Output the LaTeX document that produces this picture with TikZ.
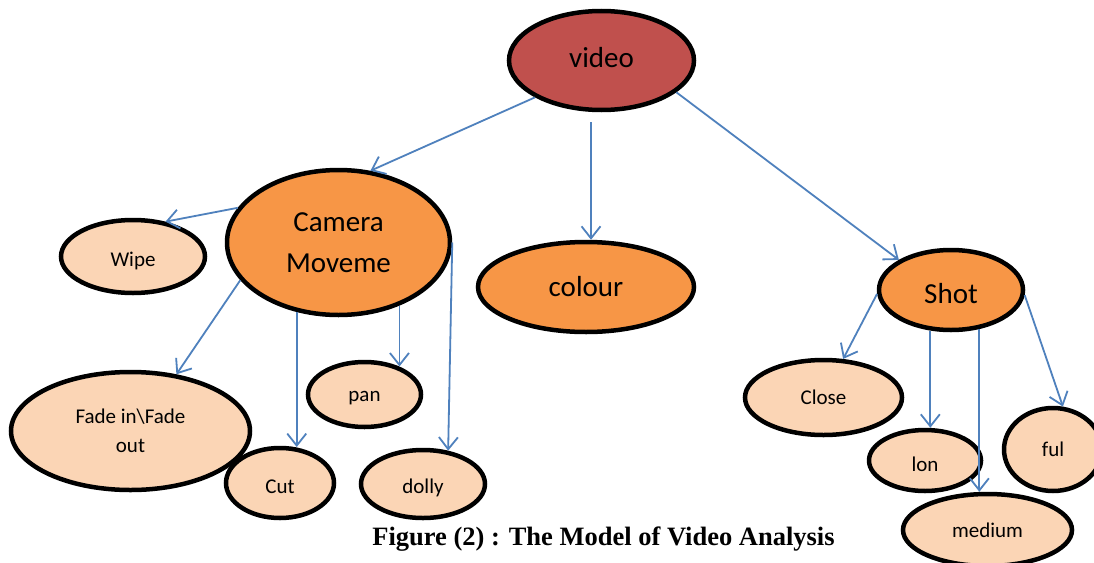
\documentclass[tikz,border=0pt]{standalone}
\usepackage{fontspec}
\setmainfont{Carlito}
\newfontfamily\capfont{Liberation Serif}
\usetikzlibrary{arrows.meta,shapes.geometric}
\definecolor{vidred}{HTML}{C0504D}
\definecolor{orng}{HTML}{F79646}
\definecolor{peach}{HTML}{FBD5B5}
\definecolor{arrblue}{HTML}{4F81BD}
\newcommand{\lowr}[1]{\raisebox{-4pt}[\height][\depth]{#1}}
\begin{document}
\begin{tikzpicture}[x=1pt,y=-1pt,
 ell/.style={ellipse,draw=black,line width=4.5pt,inner sep=0pt,align=center},
 big/.style={ell,font=\fontsize{29}{41}\selectfont},
 small/.style={ell,fill=peach,font=\fontsize{21}{29}\selectfont},
 conn/.style={draw=arrblue,line width=1.8pt,-{Straight Barb[length=12pt,width=19pt]}}]
\clip (0,0) rectangle (1094,562);
\fill[white] (0,0) rectangle (1094,562);
% main nodes
\node[big,fill=vidred,minimum width=185pt,minimum height=99pt] (video) at (601.5,60.5) {\raisebox{3pt}[\height][\depth]{video}};
\node[big,fill=orng,minimum width=223pt,minimum height=145pt] (cam) at (338.5,242.5) {Camera\\Moveme};
\node[big,fill=orng,minimum width=216pt,minimum height=90pt] (colour) at (586,287) {colour};
\node[big,fill=orng,minimum width=144pt,minimum height=80pt] (shot) at (951,290) {\lowr{Shot}};
% leaves
\node[small,minimum width=144pt,minimum height=73pt] (wipe) at (133,256.5) {\lowr{Wipe}};
\node[small,minimum width=239pt,minimum height=118pt] (fade) at (130.5,431) {Fade in\textbackslash Fade\\out};
\node[small,minimum width=108pt,minimum height=70pt] (cut) at (280,483) {\lowr{Cut}};
\node[small,minimum width=113pt,minimum height=65pt] (pan) at (364.5,394.5) {\lowr{pan}};
\node[small,minimum width=124pt,minimum height=68pt] (dolly) at (423,484) {\lowr{dolly}};
\node[small,minimum width=157pt,minimum height=75pt] (close) at (823.5,397.5) {Close};
\node[small,minimum width=112pt,minimum height=61pt] (lon) at (925,460.5) {\lowr{lon}};
\node[small,minimum width=98pt,minimum height=83pt] (ful) at (1053,449.5) {ful};
\node[small,minimum width=169pt,minimum height=72pt] (medium) at (987.5,530) {medium};
% connectors
\coordinate (vc) at (591,122);
\draw[conn] (video.209) -- (cam.66);
\draw[conn] (vc) -- (vc |- colour.north);
\draw[conn] (video.337) -- (shot.150);
\draw[conn] (cam.161) -- (wipe.47);
\draw[conn] (cam.201) -- (fade.51);
\draw[conn] (cam.239) -- (cam.239 |- cut.68);
\draw[conn] (cam.314) -- (cam.314 |- pan.39);
\draw[conn] (cam.east) -- (dolly.53);
\draw[conn] (shot.183) -- (close.63);
\draw[conn] (shot.243) -- (shot.243 |- lon.north);
\draw[conn] (shot.306) -- (shot.306 |- medium.north);
\draw[conn] (shot.356) -- (ful.77);
% caption
\node[font=\capfont\bfseries\fontsize{26.5}{30}\selectfont,anchor=base,inner sep=0pt] (cap) at (603.5,545) {Figure (2) : The Model of Video Analysis};
\end{tikzpicture}
\end{document}
